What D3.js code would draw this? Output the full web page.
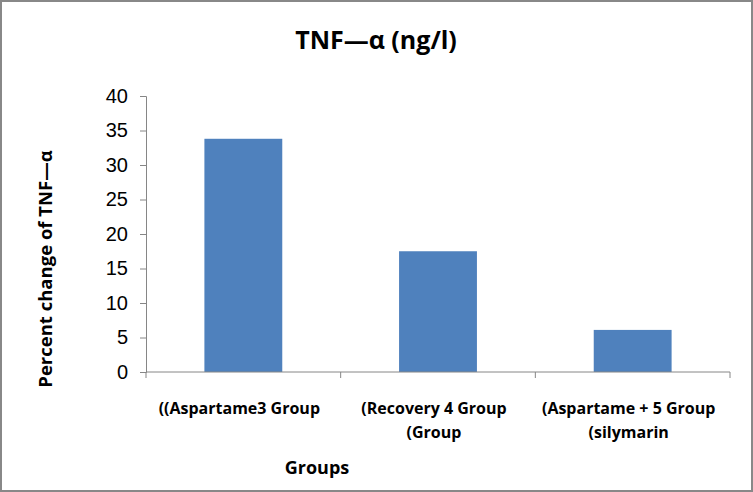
<!DOCTYPE html>
<html>
<head>
<meta charset="utf-8">
<script src="https://cdn.jsdelivr.net/npm/d3@7"></script>
<style>
  body { margin: 0; background: #fff; }
  svg { display: block; }
</style>
</head>
<body>
<script>
// chart values
var groups = ["g3", "g4", "g5"];
var groupLabels = [["((Aspartame3 Group"], ["(Recovery 4 Group", "(Group"], ["(Aspartame + 5 Group", "(silymarin"]];
var values = [33.8, 17.5, 6.1];
var yTicks = [0, 5, 10, 15, 20, 25, 30, 35, 40];

var W = 753, H = 492;
var margin = {top: 96, right: 23, bottom: 120, left: 146},
    width = W - margin.left - margin.right,
    height = H - margin.top - margin.bottom;

var root = d3.select("body").append("svg")
    .attr("width", W)
    .attr("height", H);

// outer frame
root.append("rect")
    .attr("x", 1).attr("y", 1)
    .attr("width", W - 2).attr("height", H - 2)
    .attr("fill", "none")
    .attr("stroke", "#888")
    .attr("stroke-width", 2);

var svg = root.append("g")
    .attr("transform", "translate(" + margin.left + "," + margin.top + ")");

var xScale = d3.scaleBand().domain(groups).range([0, width])
    .paddingInner(0.6).paddingOuter(0.3);
var xGroup = d3.scaleBand().domain(groups).range([0, width]);
var yScale = d3.scaleLinear().domain([0, 40]).range([height, 0]);

// bars
svg.selectAll("rect.bar")
    .data(values)
    .enter()
    .append("rect")
    .attr("class", "bar")
    .attr("x", function(d, i) { return xScale(groups[i]); })
    .attr("y", function(d) { return yScale(d); })
    .attr("width", xScale.bandwidth())
    .attr("height", function(d) { return height - yScale(d); })
    .attr("fill", "#4f81bd");

// y axis
var yAxis = d3.axisLeft(yScale).tickValues(yTicks).tickSize(6).tickPadding(12);
var gy = svg.append("g").call(yAxis);
gy.select(".domain").attr("stroke", "#868686");
gy.selectAll(".tick line").attr("stroke", "#868686");
gy.selectAll(".tick text")
    .attr("font-family", "Liberation Sans, Arial, sans-serif")
    .attr("font-size", "20px")
    .attr("fill", "#000");

// x axis line with ticks at group boundaries
var gx = svg.append("g").attr("transform", "translate(0," + height + ")");
gx.append("line")
    .attr("x1", 0).attr("x2", width)
    .attr("stroke", "#868686");
gx.selectAll("line.tk")
    .data(groups.concat(["end"]))
    .enter()
    .append("line")
    .attr("class", "tk")
    .attr("x1", function(d, i) { return i < groups.length ? xGroup(d) : width; })
    .attr("x2", function(d, i) { return i < groups.length ? xGroup(d) : width; })
    .attr("y1", 0).attr("y2", 6)
    .attr("stroke", "#868686");

// category labels
var lab = gx.selectAll("text.cat")
    .data(groupLabels)
    .enter()
    .append("text")
    .attr("class", "cat")
    .attr("x", function(d, i) { return xGroup(groups[i]) + xGroup.bandwidth() / 2 - 4; })
    .attr("y", 42)
    .attr("text-anchor", "middle")
    .attr("font-family", "Open Sans, sans-serif")
    .attr("font-weight", "bold")
    .attr("font-size", "16px")
    .attr("fill", "#000");
lab.selectAll("tspan")
    .data(function(d) { return d; })
    .enter()
    .append("tspan")
    .attr("x", function() { return d3.select(this.parentNode).attr("x"); })
    .attr("dy", function(d, i) { return i === 0 ? 0 : 24; })
    .text(function(d) { return d; });

// title
root.append("text")
    .attr("x", 376).attr("y", 49)
    .attr("text-anchor", "middle")
    .attr("font-family", "Open Sans, sans-serif")
    .attr("font-weight", "bold")
    .attr("font-size", "25px")
    .text("TNF\u2014\u03b1 (ng/l)");

// axis titles
root.append("text")
    .attr("transform", "translate(52,269) rotate(-90)")
    .attr("text-anchor", "middle")
    .attr("font-family", "Open Sans, sans-serif")
    .attr("font-weight", "bold")
    .attr("font-size", "18.5px")
    .text("Percent change of TNF\u2014\u03b1");

root.append("text")
    .attr("x", 317).attr("y", 474)
    .attr("text-anchor", "middle")
    .attr("font-family", "Open Sans, sans-serif")
    .attr("font-weight", "bold")
    .attr("font-size", "18px")
    .text("Groups");
</script>
</body>
</html>
